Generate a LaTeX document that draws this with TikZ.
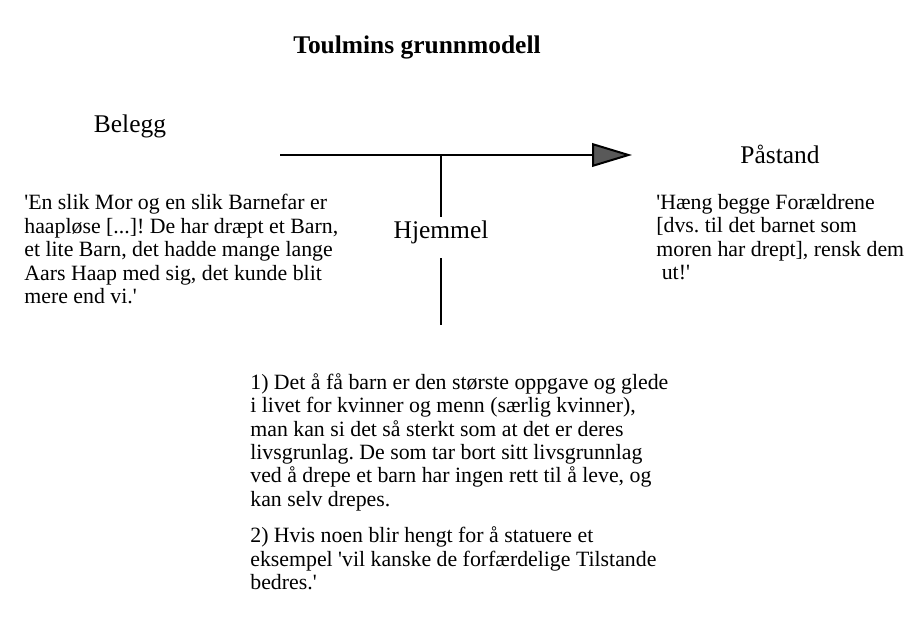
\documentclass[tikz,border=0pt]{standalone}
\usepackage{fontspec}
\setmainfont{Liberation Serif}[Ligatures=TeXOff]
\usetikzlibrary{arrows.meta}
\frenchspacing
\begin{document}
\begin{tikzpicture}[x=0.55pt,y=-0.55pt,
  bodytext/.style={font=\fontsize{12}{12.9}\selectfont, inner sep=0pt, align=left, anchor=north west},
  lbl/.style={font=\fontsize{14}{16}\selectfont, inner sep=0pt, anchor=base},
  heavy/.style={line width=1.1pt, black}]
\useasboundingbox (0,0) rectangle (911,624);
\node[font=\bfseries\fontsize{14}{16}\selectfont, inner sep=0pt, anchor=base] (title) at (417,53) {Toulmins grunnmodell};
\node[lbl] (belegg) at (130,132) {Belegg};
\node[lbl] (pastand) at (780,163) {Påstand};
\node[lbl] (hjemmel) at (441,238) {Hjemmel};
\coordinate (start) at (280,155);
\coordinate (tip) at (632,155);
\coordinate (tjoint) at (441,155);
\coordinate (up) at (441,217);
\coordinate (lowtop) at (441,258);
\coordinate (lowbot) at (441,325);
\draw[heavy, -{Triangle[length=22pt,width=13pt,fill=black!65]}] (start) -- (tip);
\draw[heavy] (tjoint) -- (up);
\draw[heavy] (lowtop) -- (lowbot);
\node[bodytext] (data) at (24,194) {'En slik Mor og en slik Barnefar er\\haapløse {[}...{]}! De har dræpt et Barn,\\et lite Barn, det hadde mange lange\\Aars Haap med sig, det kunde blit\\mere end vi.'};
\node[bodytext] (claim) at (656,194) {'Hæng begge Forældrene\\{[}dvs. til det barnet som\\moren har drept{]}, rensk dem\\\hspace*{0.25em}ut!'};
\node[bodytext] (warrant) at (250,373) {1) Det å få barn er den største oppgave og glede\\i livet for kvinner og menn (særlig kvinner),\\man kan si det så sterkt som at det er deres\\livsgrunlag. De som tar bort sitt livsgrunnlag\\ved å drepe et barn har ingen rett til å leve, og\\kan selv drepes.\\[7pt]2) Hvis noen blir hengt for å statuere et\\eksempel 'vil kanske de forfærdelige Tilstande\\bedres.'};
\end{tikzpicture}
\end{document}
